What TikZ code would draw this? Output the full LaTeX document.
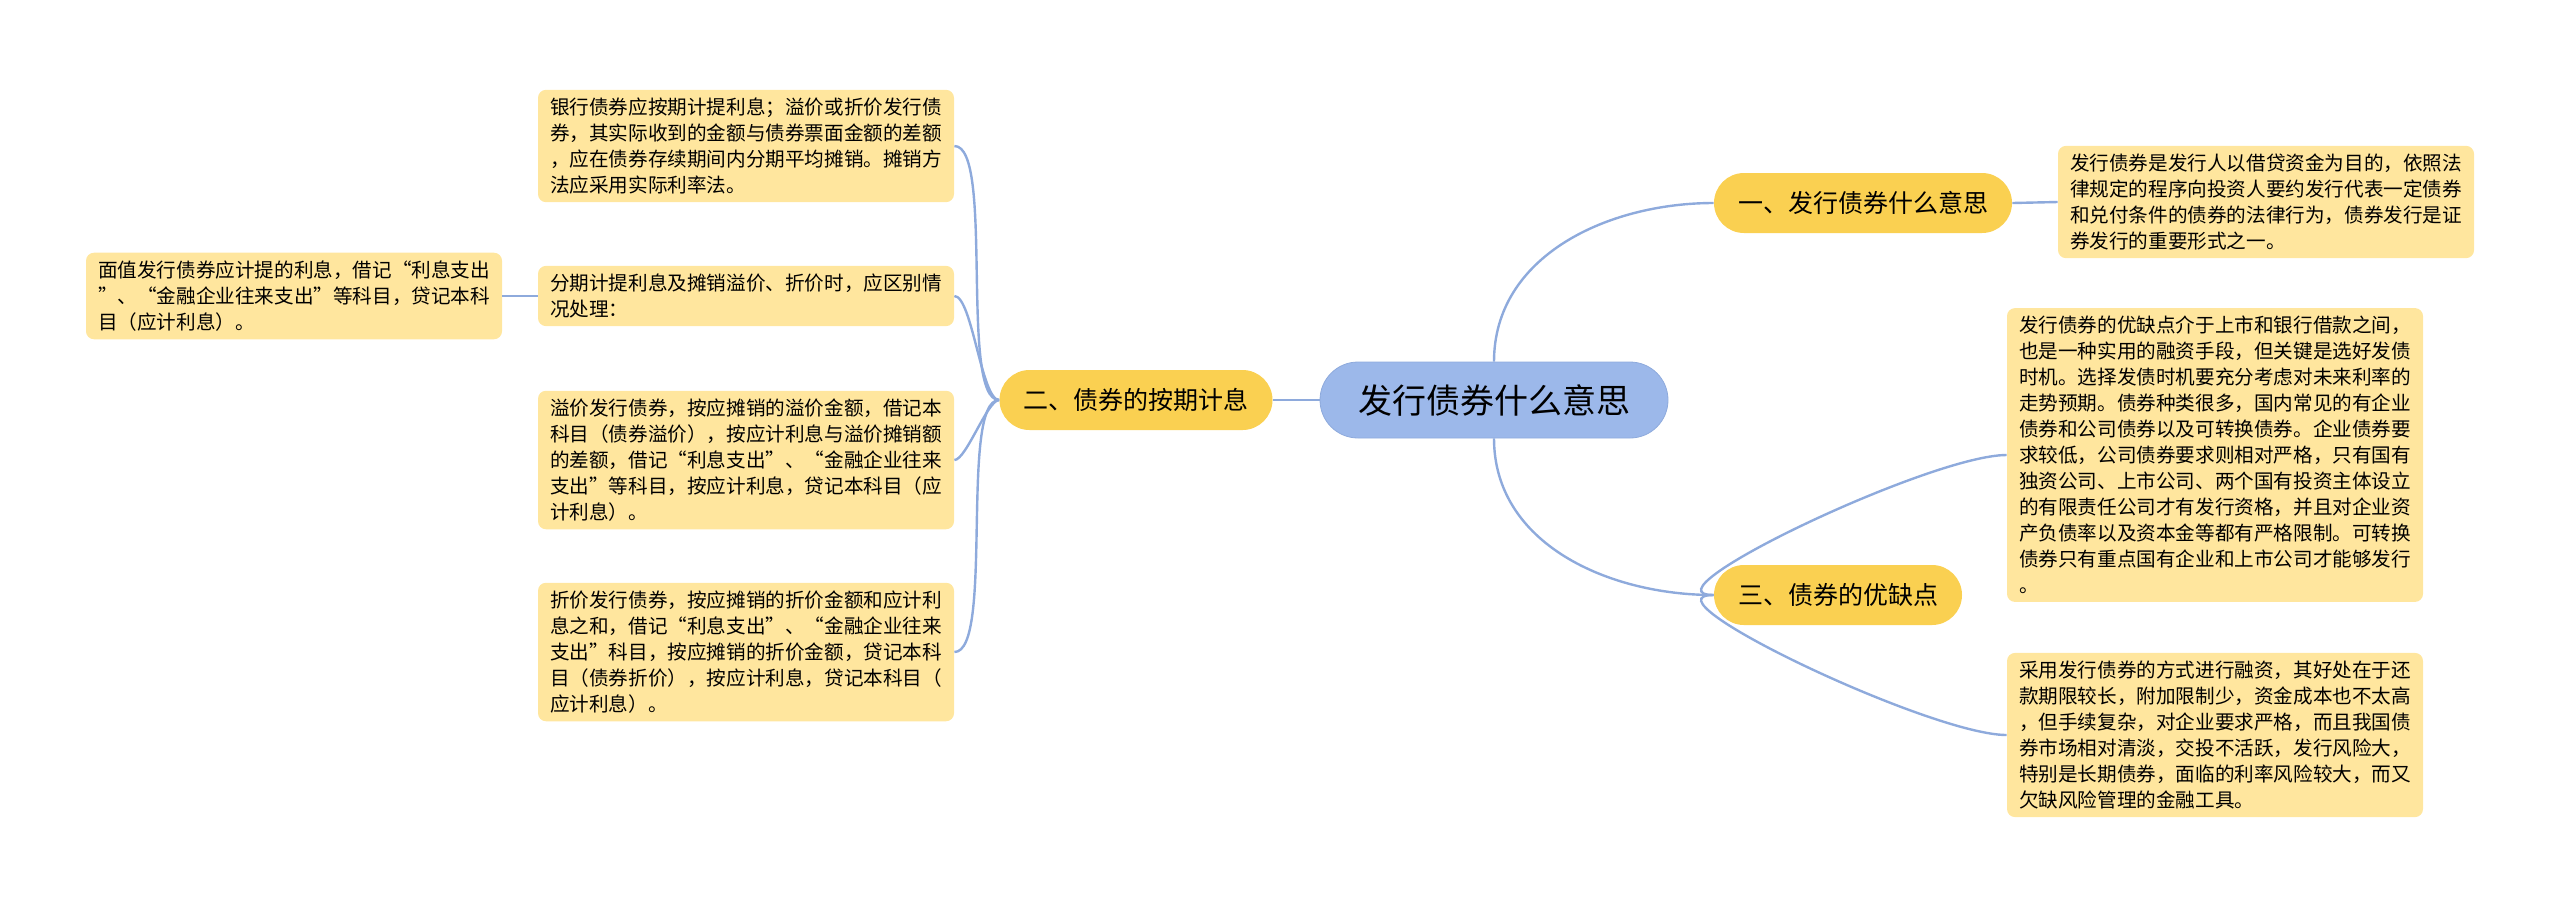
\documentclass[tikz,border=0pt]{standalone}
\usepackage{fontspec}
\setmainfont{Noto Sans CJK SC}
\usetikzlibrary{positioning}
\definecolor{linkblue}{HTML}{8EAADC}
\definecolor{rootblue}{HTML}{9CB8EA}
\definecolor{branchyellow}{HTML}{FAD051}
\definecolor{leafyellow}{HTML}{FFE69E}
\begin{document}
\begin{tikzpicture}[x=0.5pt,y=-0.5pt]
\tikzstyle{root}=[fill=rootblue, draw=linkblue, rounded corners=19pt, minimum width=174pt, minimum height=38pt, font=\fontsize{17}{20}\selectfont]
\tikzstyle{branch}=[fill=branchyellow, rounded corners=15pt, minimum height=30pt, inner xsep=12pt, font=\fontsize{12.5}{15}\selectfont]
\tikzstyle{leaf}=[fill=leafyellow, rounded corners=4pt, text width=196pt, inner xsep=6pt, inner ysep=4pt, align=left, font=\fontsize{9.8}{13}\selectfont]
\tikzstyle{link}=[draw=linkblue, line width=1.2pt]
\useasboundingbox (0,0) rectangle (2560,907);
\node[root](R) at (1494,400) {发行债券什么意思};
\node[branch](B1) at (1863,203) {一、发行债券什么意思};
\node[branch](B2) at (1136,400) {二、债券的按期计息};
\node[branch](B3) at (1838,595) {三、债券的优缺点};
\node[leaf](L11) at (2266,202) {发行债券是发行人以借贷资金为目的，依照法\\律规定的程序向投资人要约发行代表一定债券\\和兑付条件的债券的法律行为，债券发行是证\\券发行的重要形式之一。};
\node[leaf](L31) at (2215,455) {发行债券的优缺点介于上市和银行借款之间，\\也是一种实用的融资手段，但关键是选好发债\\时机。选择发债时机要充分考虑对未来利率的\\走势预期。债券种类很多，国内常见的有企业\\债券和公司债券以及可转换债券。企业债券要\\求较低，公司债券要求则相对严格，只有国有\\独资公司、上市公司、两个国有投资主体设立\\的有限责任公司才有发行资格，并且对企业资\\产负债率以及资本金等都有严格限制。可转换\\债券只有重点国有企业和上市公司才能够发行\\。};
\node[leaf](L32) at (2215,735) {采用发行债券的方式进行融资，其好处在于还\\款期限较长，附加限制少，资金成本也不太高\\，但手续复杂，对企业要求严格，而且我国债\\券市场相对清淡，交投不活跃，发行风险大，\\特别是长期债券，面临的利率风险较大，而又\\欠缺风险管理的金融工具。};
\node[leaf](L21) at (746,146) {银行债券应按期计提利息；溢价或折价发行债\\券，其实际收到的金额与债券票面金额的差额\\，应在债券存续期间内分期平均摊销。摊销方\\法应采用实际利率法。};
\node[leaf](L22) at (746,296) {分期计提利息及摊销溢价、折价时，应区别情\\况处理：};
\node[leaf](L23) at (746,460) {溢价发行债券，按应摊销的溢价金额，借记本\\科目（债券溢价），按应计利息与溢价摊销额\\的差额，借记“利息支出”、“金融企业往来\\支出”等科目，按应计利息，贷记本科目（应\\计利息）。};
\node[leaf](L24) at (746,652) {折价发行债券，按应摊销的折价金额和应计利\\息之和，借记“利息支出”、“金融企业往来\\支出”科目，按应摊销的折价金额，贷记本科\\目（债券折价），按应计利息，贷记本科目（\\应计利息）。};
\node[leaf](L221) at (294,296) {面值发行债券应计提的利息，借记“利息支出\\”、“金融企业往来支出”等科目，贷记本科\\目（应计利息）。};
\draw[link] (R.north) to[out=90,in=180] (B1.west);
\draw[link] (R.south) to[out=-90,in=180] (B3.west);
\draw[link] (R.west) -- (B2.east);
\draw[link] (B1.east) -- (L11.west);
\draw[link] (B3.west) to[out=180,in=180,looseness=0.6] (L31.west);
\draw[link] (B3.west) to[out=180,in=180,looseness=0.6] (L32.west);
\draw[link] (B2.west) to[out=180,in=0,looseness=0.4] (L21.east);
\draw[link] (B2.west) to[out=180,in=0,looseness=0.4] (L22.east);
\draw[link] (B2.west) to[out=180,in=0,looseness=0.4] (L23.east);
\draw[link] (B2.west) to[out=180,in=0,looseness=0.4] (L24.east);
\draw[link] (L22.west) -- (L221.east);
\end{tikzpicture}
\end{document}
